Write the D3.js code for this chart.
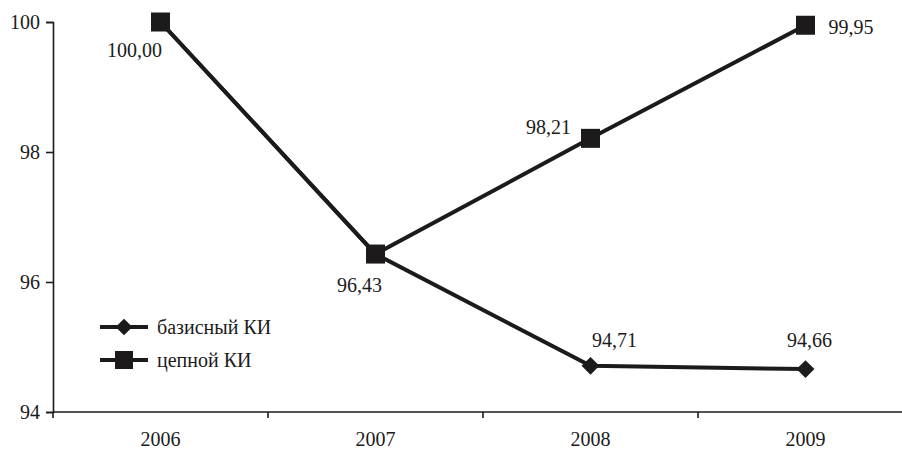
<!DOCTYPE html>
<html>
<head>
<meta charset="utf-8">
<script src="https://cdn.jsdelivr.net/npm/d3@7/dist/d3.min.js"></script>
<style>
  html, body { margin: 0; padding: 0; background: #fff; }
  svg { display: block; }
  svg text { font-family: "Liberation Serif", "DejaVu Sans Mono", monospace !important; }
</style>
</head>
<body>
<svg id="chart" width="902" height="449"></svg>
<script>
// Years on the horizontal axis
const years = ["2006", "2007", "2008", "2009"];
// Base index (базисный КИ) and chain index (цепной КИ)
const baseIndex = [100.00, 96.43, 94.71, 94.66];
const chainIndex = [100.00, 96.43, 98.21, 99.95];
const seriesNames = ["базисный КИ", "цепной КИ"];
const yTicks = [94, 96, 98, 100];

// Value label placement: [series, year index, dx, dy, anchor]
const labelPlacement = [
  ["chain", 0, -26, 35, "middle"],
  ["chain", 1, -16, 38, "middle"],
  ["chain", 2, -42, -4, "middle"],
  ["chain", 3, 23, 9, "start"],
  ["base", 2, 24, -19, "middle"],
  ["base", 3, 4, -22, "middle"]
];

const ink = "#1c1a1b";
const svg = d3.select("#chart");
const plotLeft = 53, plotRight = 913, plotTop = 22, plotBottom = 412;

const x = d3.scaleBand().domain(years).range([plotLeft, plotRight]).padding(0);
const y = d3.scaleLinear().domain([94, 100]).range([plotBottom, plotTop]);
const cx = d => x(d) + x.bandwidth() / 2;

// Y axis
const yAxis = svg.append("g")
  .attr("transform", `translate(${plotLeft},0)`)
  .call(d3.axisLeft(y).tickValues(yTicks).tickFormat(d3.format("d")).tickSize(7).tickPadding(6));
yAxis.attr("font-size", 20);
yAxis.select(".domain").attr("stroke", ink).attr("stroke-width", 1.6);
yAxis.selectAll(".tick line").attr("stroke", ink).attr("stroke-width", 1.6);
yAxis.selectAll(".tick text").attr("fill", ink);

// X axis: ticks between categories
const xAxisG = svg.append("g").attr("transform", `translate(0,${plotBottom})`);
xAxisG.append("line")
  .attr("x1", plotLeft).attr("x2", 902)
  .attr("stroke", ink).attr("stroke-width", 1.6);
xAxisG.selectAll("line.sep")
  .data(years)
  .join("line")
  .attr("class", "sep")
  .attr("x1", d => x(d)).attr("x2", d => x(d))
  .attr("y1", 0).attr("y2", 6)
  .attr("stroke", ink).attr("stroke-width", 1.6);
xAxisG.selectAll("text")
  .data(years)
  .join("text")
  .attr("x", d => cx(d))
  .attr("y", 34)
  .attr("text-anchor", "middle")
  .attr("font-size", 20)
  .attr("fill", ink)
  .text(d => d);

const line = d3.line().x((d, i) => cx(years[i])).y(d => y(d));

// Base index line with diamond markers
svg.append("path")
  .datum(baseIndex)
  .attr("d", line)
  .attr("fill", "none")
  .attr("stroke", ink)
  .attr("stroke-width", 4);
svg.selectAll("path.dia")
  .data(baseIndex)
  .join("path")
  .attr("class", "dia")
  .attr("d", d3.symbol().type(d3.symbolSquare).size(160))
  .attr("transform", (d, i) => `translate(${cx(years[i])},${y(d)}) rotate(45)`)
  .attr("fill", ink);

// Chain index line with square markers
svg.append("path")
  .datum(chainIndex)
  .attr("d", line)
  .attr("fill", "none")
  .attr("stroke", ink)
  .attr("stroke-width", 4);
svg.selectAll("rect.sq")
  .data(chainIndex)
  .join("rect")
  .attr("class", "sq")
  .attr("x", (d, i) => cx(years[i]) - 9.5)
  .attr("y", d => y(d) - 9.5)
  .attr("width", 19).attr("height", 19)
  .attr("fill", ink);

// Value labels
const fmt = v => v.toFixed(2).replace(".", ",");
svg.selectAll("text.val")
  .data(labelPlacement)
  .join("text")
  .attr("class", "val")
  .attr("x", d => cx(years[d[1]]) + d[2])
  .attr("y", d => y((d[0] === "chain" ? chainIndex : baseIndex)[d[1]]) + d[3])
  .attr("text-anchor", d => d[4])
  .attr("font-size", 20)
  .attr("fill", ink)
  .text(d => fmt((d[0] === "chain" ? chainIndex : baseIndex)[d[1]]));

// Legend
const legend = svg.append("g").attr("transform", "translate(100,327)");
seriesNames.forEach((name, i) => {
  const g = legend.append("g").attr("transform", `translate(0,${i * 33})`);
  g.append("line").attr("x1", 0).attr("x2", 48).attr("stroke", ink).attr("stroke-width", 4);
  if (i === 0) {
    g.append("path")
      .attr("d", d3.symbol().type(d3.symbolSquare).size(140))
      .attr("transform", "translate(24,0) rotate(45)")
      .attr("fill", ink);
  } else {
    g.append("rect").attr("x", 15).attr("y", -9).attr("width", 18).attr("height", 18).attr("fill", ink);
  }
  g.append("text")
    .attr("x", 57).attr("y", 7)
    .attr("font-size", 20)
    .attr("fill", ink)
    .text(name);
});
</script>
</body>
</html>
